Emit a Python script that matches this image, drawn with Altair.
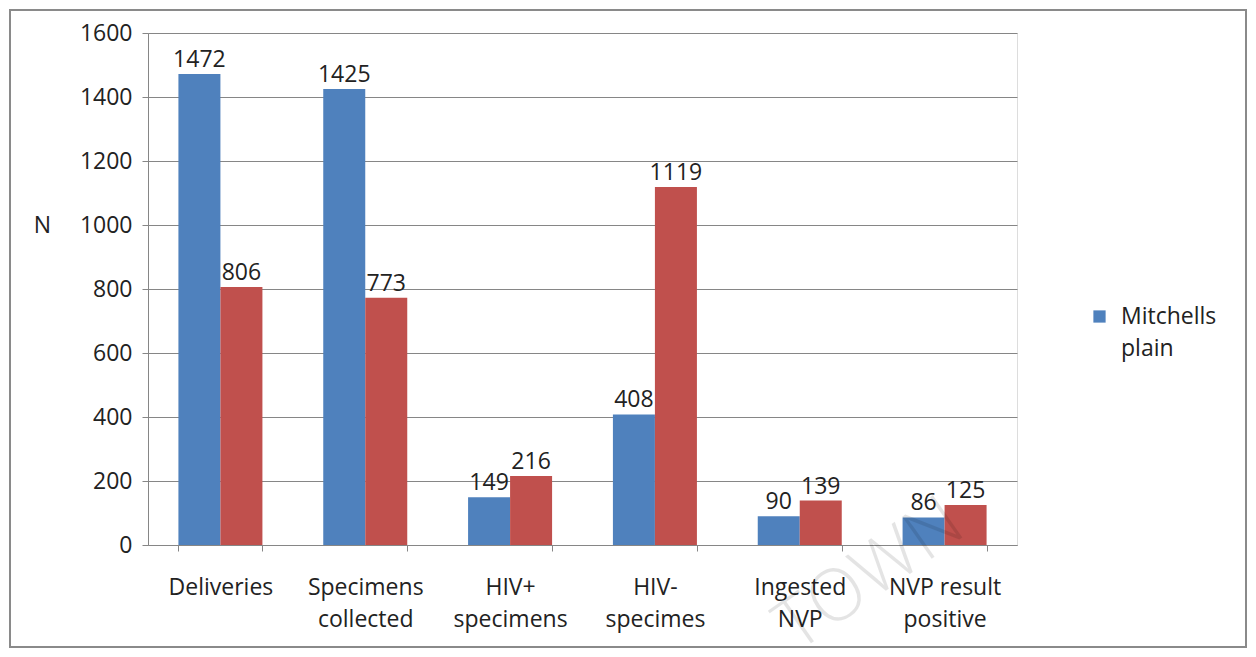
import altair as alt
import pandas as pd

categories = ["Deliveries", "Specimens\ncollected", "HIV+\nspecimens", "HIV-\nspecimes", "Ingested\nNVP", "NVP result\npositive"]
series_names = ["Mitchells plain", "Other"]
blue_values = [1472, 1425, 149, 408, 90, 86]
red_values = [806, 773, 216, 1119, 139, 125]
y_ticks = [0, 200, 400, 600, 800, 1000, 1200, 1400, 1600]
colors = ["#4F81BD", "#C0504D"]

rows = []
for c, b, r in zip(categories, blue_values, red_values):
    rows.append({"category": c, "series": series_names[0], "value": b})
    rows.append({"category": c, "series": series_names[1], "value": r})
df = pd.DataFrame(rows)

FONT = "Open Sans"
FS = 23
W, H = 869, 512

x = alt.X("category:N", sort=categories,
          scale=alt.Scale(paddingInner=0.42, paddingOuter=0.21),
          axis=alt.Axis(title=None, labelExpr="split(datum.label, '\\n')",
                        tickBand="extent", labelAngle=0, labelPadding=25,
                        labelBaseline="top", labelLineHeight=32,
                        labelFontSize=FS, labelColor="#222", labelFont=FONT,
                        domainColor="#868686", tickColor="#868686", tickSize=6,
                        grid=False))
xo = alt.XOffset("series:N", sort=series_names, scale=alt.Scale(paddingInner=0))
y = alt.Y("value:Q", scale=alt.Scale(domain=[0, 1600], nice=False),
          axis=alt.Axis(values=y_ticks, format="d", title="N", titleAngle=0, titleX=-106, titleY=192,
                        titleAlign="center", titleBaseline="middle", titleFontSize=FS,
                        titleFont=FONT, titleFontWeight="normal", titleColor="#222",
                        labelFontSize=FS, labelFont=FONT, labelColor="#222", labelPadding=10,
                        gridColor="#868686", gridWidth=1, domainColor="#868686",
                        tickColor="#868686", tickSize=6))

base = alt.Chart(df)
bars = base.mark_bar().encode(
    x=x, xOffset=xo, y=y,
    color=alt.Color("series:N", sort=series_names,
                    scale=alt.Scale(domain=series_names, range=colors),
                    legend=alt.Legend(title=None, values=["Mitchells plain"], orient="none",
                                      legendX=940, legendY=272, symbolType="square",
                                      symbolSize=150, symbolStrokeWidth=0,
                                      labelFontSize=FS, labelFont=FONT, labelColor="#222",
                                      labelExpr="split(datum.label, ' ')",
                                      labelOffset=10)))
labels = base.mark_text(baseline="bottom", dy=-2, fontSize=FS, font=FONT, color="#222").encode(
    x=alt.X("category:N", sort=categories), xOffset=xo, y="value:Q", text="value:Q")

border = alt.Chart(pd.DataFrame({"a": [0]})).mark_rect(
    fill=None, stroke="#8a8a8a", strokeWidth=2).encode(
    x=alt.value(-138), x2=alt.value(W + 229), y=alt.value(-23), y2=alt.value(H + 102))

watermark = alt.Chart(pd.DataFrame({"t": ["TOWN"]})).mark_text(
    angle=325, fontSize=72, font=FONT, fontWeight=300, color="#000", opacity=0.1,
    align="center", baseline="middle").encode(
    x=alt.value(722), y=alt.value(542), text="t:N")

chart = alt.layer(bars, labels, watermark, border).properties(
    width=W, height=H,
    autosize=alt.AutoSizeParams(type="none"),
    padding={"left": 140, "top": 25, "right": 231, "bottom": 104},
).configure_view(stroke=None).configure(
    background="white", style={"guide-label": {"lineHeight": 32}})

chart.save("out.html", embed_options={"renderer": "svg", "actions": False})
